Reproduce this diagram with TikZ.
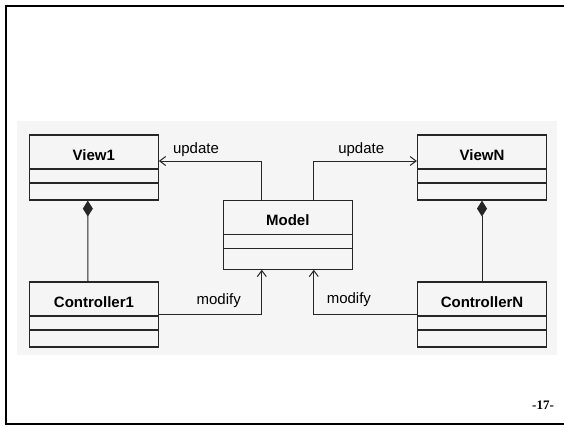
\documentclass[tikz,border=0pt]{standalone}
\usepackage{fontspec}
\setmainfont{Liberation Sans}
\newfontfamily\pagefont{Liberation Serif}
\usetikzlibrary{arrows.meta}
\begin{document}
\begin{tikzpicture}[x=1pt, y=-1pt,
   umlclass/.style={draw=black!85, line width=1.2pt, inner sep=0pt,
      minimum width=129pt, minimum height=65pt,
      text height=10.7pt, text depth=25.7pt,
      font=\bfseries\fontsize{15}{18}\selectfont,
      path picture={
         \draw[black!85, line width=1.2pt]
            ([yshift=-34pt]path picture bounding box.north west) -- ([yshift=-34pt]path picture bounding box.north east)
            ([yshift=-48pt]path picture bounding box.north west) -- ([yshift=-48pt]path picture bounding box.north east);}},
   link/.style={draw=black!85, line width=1pt, -{Straight Barb[length=6pt,width=9pt]}},
   comp/.style={draw=black!85, line width=1pt, -{Diamond[length=16pt,width=10pt]}},
   lbl/.style={font=\fontsize{15}{18}\selectfont, inner sep=4pt}]
   \useasboundingbox (0,0) rectangle (564,426);
   % scanned page
   \fill[black!4] (17,121) rectangle (557,355);
   \draw[line width=2pt] (564,6) -- (5.7,6) -- (5.7,424) -- (564,424);
   % classes
   \node[umlclass] (view1) at (93.8,167.5) {View1};
   \node[umlclass] (viewN) at (482,167.5)  {ViewN};
   \node[umlclass, minimum height=69pt, text depth=29.7pt] (model) at (287.8,234.7) {Model};
   \node[umlclass] (ctrl1) at (94,314.5)   {Controller1};
   \node[umlclass] (ctrlN) at (482,314.5)  {ControllerN};
   % associations
   \draw[link] ([xshift=-26pt]model.north) |- ([yshift=6.5pt]view1.east)
      node[lbl, above, pos=0.82] (upd1) {update};
   \draw[link] ([xshift=26pt]model.north) |- ([yshift=6.5pt]viewN.west)
      node[lbl, above, pos=0.73] (updN) {update};
   \draw[link] (ctrl1.east) -| ([xshift=-26pt]model.south)
      node[lbl, above=2pt, pos=0.29] (mod1) {modify};
   \draw[link] (ctrlN.west) -| ([xshift=26pt]model.south)
      node[lbl, above=3pt, pos=0.33] (modN) {modify};
   \draw[comp] ([xshift=-6pt]ctrl1.north) -- ([xshift=-6pt]view1.south);
   \draw[comp] (ctrlN.north) -- (viewN.south);
   % page number
   \node[font=\pagefont\bfseries\fontsize{13}{15}\selectfont, anchor=base] (page) at (543,409) {-17-};
\end{tikzpicture}
\end{document}
